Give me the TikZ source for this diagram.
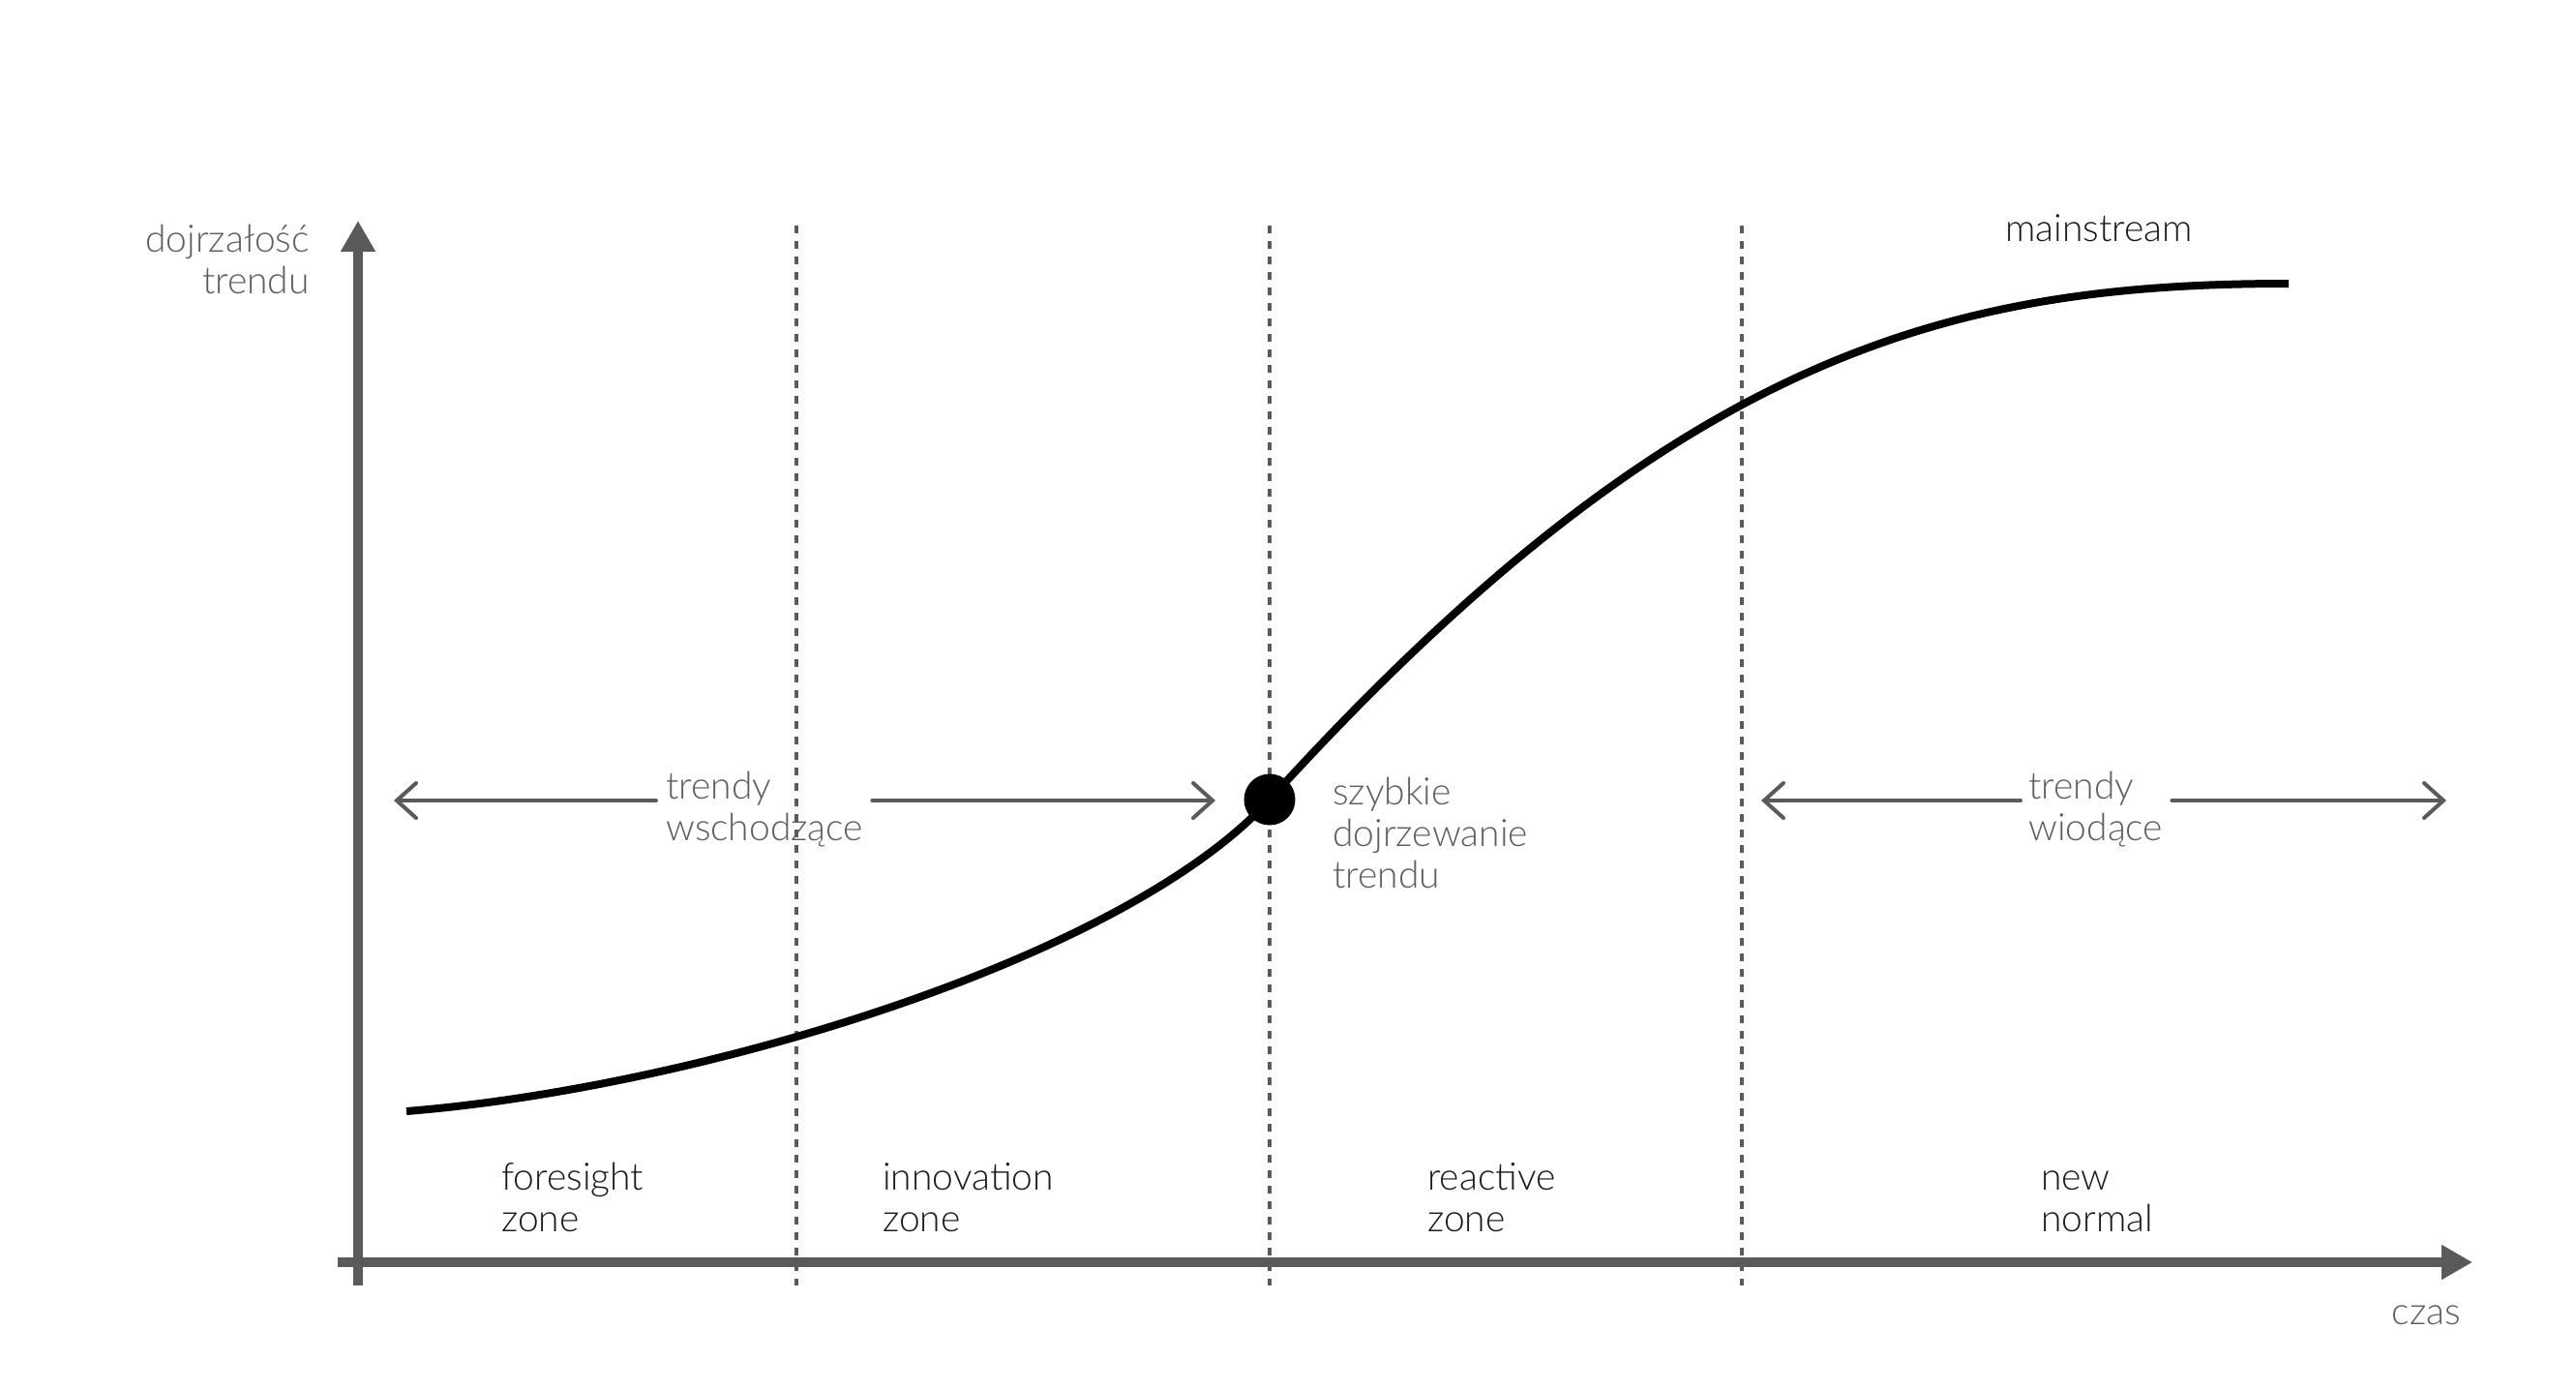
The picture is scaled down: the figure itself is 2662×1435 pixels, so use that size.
\documentclass[tikz,border=0pt]{standalone}
\usepackage{fontspec}
\setmainfont{Lato Light}
\usetikzlibrary{arrows.meta}
\definecolor{axisgray}{HTML}{5A5A5A}
\definecolor{textgray}{HTML}{5E5E5E}
\definecolor{darktext}{HTML}{1A1A1A}
\begin{document}
\begin{tikzpicture}[x=1pt,y=-1pt,
  lbl/.style={font=\fontsize{39}{43}\selectfont, align=left, inner sep=0pt, anchor=base west},
  graylbl/.style={lbl, text=textgray},
  darklbl/.style={lbl, text=darktext},
  axisline/.style={draw=axisgray, line width=10pt, -{Triangle[length=32pt,width=34pt]}},
  zoneline/.style={draw=axisgray, line width=4pt, dash pattern=on 8pt off 8pt},
  spanarrow/.style={draw=axisgray, line width=4pt, line cap=round, -{Straight Barb[length=20pt,width=36pt,line cap=round]}},
  trendcurve/.style={draw=black, line width=8pt}]
\useasboundingbox[fill=white] (0,0) rectangle (2662,1435);

% axes
\coordinate (ybot) at (370,1328);
\coordinate (ytop) at (370,228);
\coordinate (xleft) at (349,1304);
\coordinate (xright) at (2555,1304);
\draw[axisline] (ybot) -- (ytop);
\draw[axisline] (xleft) -- (xright);

% zone separators
\foreach \x/\n in {823/a,1312/b,1800/c}{
  \coordinate (z\n top) at (\x,233);
  \coordinate (z\n bot) at (\x,1328);
  \draw[zoneline] (z\n top) -- (z\n bot);
}

% curve
\coordinate (cstart) at (420,1148);
\coordinate (cend) at (2365,293);
\node[circle, fill=black, minimum size=53pt, inner sep=0pt] (dot) at (1312,826) {};
\draw[trendcurve] (cstart) .. controls (720,1124) and (1162,991) .. (dot.center)
  .. controls (1732,364) and (2015,293) .. (cend);

% labels
\node[graylbl, anchor=base east, align=right] (ylab) at (320,303) {dojrzałość\\trendu};
\node[darklbl] (main) at (2072,249) {mainstream};
\node[graylbl] (tw) at (688,868) {trendy\\wschodzące};
\node[graylbl] (szyb) at (1377,917) {szybkie\\dojrzewanie\\trendu};
\node[graylbl] (twd) at (2096,868) {trendy\\wiodące};
\node[graylbl, anchor=base east] (czas) at (2543,1368) {czas};
\node[darklbl] (zf) at (518,1272) {foresight\\zone};
\node[darklbl] (zi) at (912,1272) {innovation\\zone};
\node[darklbl] (zr) at (1475,1272) {reactive\\zone};
\node[darklbl] (zn) at (2109,1272) {new\\normal};

% span arrows
\coordinate (e1l) at (407,827);
\coordinate (e1r) at (1256,827);
\coordinate (e2l) at (1820,827);
\coordinate (e2r) at (2528,827);
\draw[spanarrow] ([xshift=-10pt]tw.west |- e1l) -- (e1l);
\draw[spanarrow] ([xshift=9pt]tw.east |- e1r) -- (e1r);
\draw[spanarrow] ([xshift=-8pt]twd.west |- e2l) -- (e2l);
\draw[spanarrow] ([xshift=9pt]twd.east |- e2r) -- (e2r);
\end{tikzpicture}
\end{document}
